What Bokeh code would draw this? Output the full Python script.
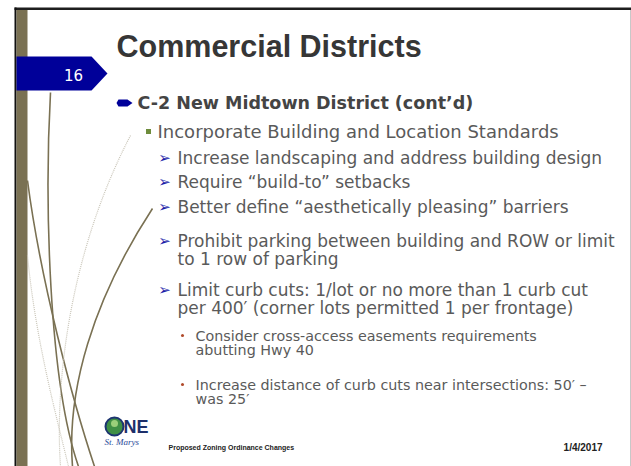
from bokeh.plotting import figure
from bokeh.models import Range1d, ColumnDataSource
from bokeh.core.properties import value
from bokeh.embed import file_html
from bokeh.resources import INLINE

# ---------------- content ----------------
title = "Commercial Districts"
slide_number = "16"
level1 = ["C-2 New Midtown District (cont’d)"]
level2 = ["Incorporate Building and Location Standards"]
level3 = [
    ["Increase landscaping and address building design"],
    ["Require “build-to” setbacks"],
    ["Better define “aesthetically pleasing” barriers"],
    ["Prohibit parking between building and ROW or limit", "to 1 row of parking"],
    ["Limit curb cuts: 1/lot or no more than 1 curb cut", "per 400′ (corner lots permitted 1 per frontage)"],
]
level4 = [
    ["Consider cross-access easements requirements", "abutting Hwy 40"],
    ["Increase distance of curb cuts near intersections: 50′ –", "was 25′"],
]
footer_left = "Proposed Zoning Ordinance Changes"
footer_date = "1/4/2017"

# ---------------- layout (pixel space of the slide) ----------------
L3_Y = [[157], [181], [206], [240, 258], [289, 307]]
L4_Y = [[335, 349], [384, 398]]

W, H = 631, 466
p = figure(width=W, height=H, output_backend="svg", toolbar_location=None,
           x_range=Range1d(0, W), y_range=Range1d(H, 0),
           min_border=0, outline_line_color=None, background_fill_color="white",
           border_fill_color="white")
p.xaxis.visible = False
p.yaxis.visible = False
p.grid.visible = False

BODY = "DejaVu Sans"
OLIVE = "#7a7153"
NAVY = "#000099"
GRAY = "#5a5a5a"

# frame lines
p.quad(left=[14], right=[W], top=[7], bottom=[9.5], fill_color="#1e1e1e", line_color=None)
p.quad(left=[629.5], right=[W], top=[9.5], bottom=[H], fill_color="#c8c8c8", line_color=None)
p.quad(left=[14], right=[16], top=[7], bottom=[H], fill_color="#111111", line_color=None)
p.quad(left=[16], right=[27], top=[9.5], bottom=[H], fill_color=OLIVE, line_color=None)

# decorative curves
curves = dict(
    x0=[50, 27, 152, 130, 27],
    y0=[92, 180, 208, 135, 255],
    x1=[78, 94, 72, 60, 68],
    y1=[466, 466, 466, 466, 466],
    cx0=[44, 40, 92, 70, 35],
    cy0=[200, 280, 300, 250, 340],
    cx1=[48, 72, 66, 54, 57],
    cy1=[380, 400, 390, 380, 420],
)
p.bezier(x0="x0", y0="y0", x1="x1", y1="y1", cx0="cx0", cy0="cy0", cx1="cx1", cy1="cy1",
         source=ColumnDataSource({k: v[:3] for k, v in curves.items()}),
         line_color=OLIVE, line_width=1.6)
p.bezier(x0="x0", y0="y0", x1="x1", y1="y1", cx0="cx0", cy0="cy0", cx1="cx1", cy1="cy1",
         source=ColumnDataSource({k: v[3:] for k, v in curves.items()}),
         line_color="#c9c5b8", line_width=1.2, line_dash="1 1")

# slide number tab
p.patch(x=[16, 91, 107, 91, 16], y=[56, 56, 73, 90, 90], fill_color=NAVY, line_color=None)
p.text(x=[73], y=[74], text=[slide_number], text_color="white", text_font=value(BODY),
       text_font_size="15px", text_align="center", text_baseline="middle")

# title
p.text(x=[116], y=[45], text=[title], text_color="#363636", text_font=value("Liberation Sans"),
       text_font_style="bold", text_font_size="30.5px", text_baseline="middle")

# level 1
p.patch(x=[118, 127, 132, 127, 118, 116], y=[99, 99, 102.5, 106, 106, 102.5],
        fill_color=NAVY, line_color=None)
p.text(x=[137], y=[102], text=level1, text_color="#444444", text_font=value(BODY),
       text_font_style="bold", text_font_size="17.5px", text_baseline="middle")

# level 2
p.rect(x=[148], y=[131], width=5, height=5, fill_color="#6e8c3c", line_color=None)
p.text(x=[157], y=[131], text=level2, text_color=GRAY, text_font=value(BODY),
       text_font_size="18px", text_baseline="middle")

# level 3
xs, ys, ts, bx, by = [], [], [], [], []
for lines, yl in zip(level3, L3_Y):
    bx.append(164)
    by.append(yl[0])
    for t, yy in zip(lines, yl):
        xs.append(177)
        ys.append(yy)
        ts.append(t)
p.text(x=bx, y=by, text=["➢"] * len(bx), text_color="#1c1ca8", text_font=value(BODY),
       text_font_size="15px", text_align="center", text_baseline="middle")
p.text(x=xs, y=ys, text=ts, text_color=GRAY, text_font=value(BODY),
       text_font_size="17px", text_baseline="middle")

# level 4
xs, ys, ts, bx, by = [], [], [], [], []
for lines, yl in zip(level4, L4_Y):
    bx.append(182)
    by.append(yl[0])
    for t, yy in zip(lines, yl):
        xs.append(195)
        ys.append(yy)
        ts.append(t)
p.scatter(x=bx, y=by, size=3, fill_color="#b04a2a", line_color=None)
p.text(x=xs, y=ys, text=ts, text_color=GRAY, text_font=value(BODY),
       text_font_size="14.3px", text_baseline="middle")

# logo
p.scatter(x=[114], y=[426], size=18, fill_color="#3f8f45", line_color="#1d3570", line_width=2)
p.scatter(x=[114], y=[423], size=7, fill_color="#9bcf7a", line_color=None)
p.text(x=[123], y=[426], text=["NE"], text_color="#1d2f6a", text_font=value("Liberation Sans"),
       text_font_style="bold", text_font_size="18px", text_baseline="middle")
p.text(x=[104], y=[441], text=["St. Marys"], text_color="#2a4a9a", text_font=value("Liberation Serif"),
       text_font_style="italic", text_font_size="9px", text_baseline="middle")

# footer
p.text(x=[168], y=[447], text=[footer_left], text_color="#222222", text_font=value("Liberation Sans"),
       text_font_style="bold", text_font_size="7px", text_baseline="middle")
p.text(x=[602], y=[447], text=[footer_date], text_color="#222222", text_font=value("Liberation Sans"),
       text_font_style="bold", text_font_size="10px", text_align="right", text_baseline="middle")

open("out.html", "w").write(file_html(p, INLINE))
